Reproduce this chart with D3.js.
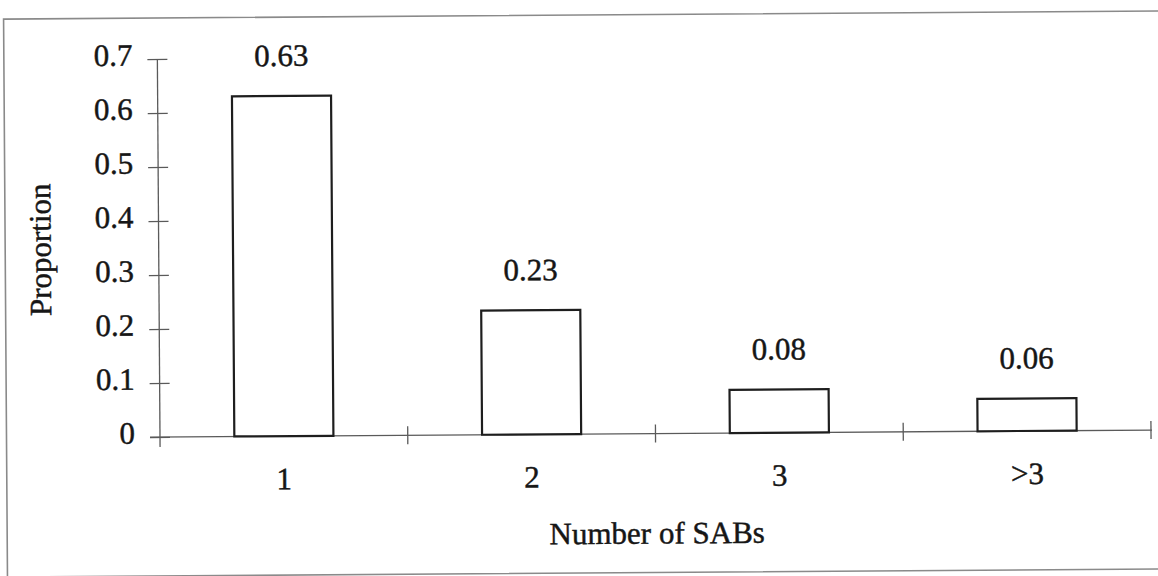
<!DOCTYPE html>
<html>
<head>
<meta charset="utf-8">
<script src="https://cdn.jsdelivr.net/npm/d3@7"></script>
<style>
  html, body { margin: 0; padding: 0; background: #fff; }
  svg { display: block; }
  text { font-family: "Liberation Serif", "Times New Roman", serif; fill: #161616; stroke: #161616; stroke-width: 0.45px; }
</style>
</head>
<body>
<svg id="chart" width="1158" height="576"></svg>
<script>
const categories = ["1", "2", "3", ">3"];
const proportions = [0.63, 0.23, 0.08, 0.06];
const valueLabels = ["0.63", "0.23", "0.08", "0.06"];
const yTicks = [0, 0.1, 0.2, 0.3, 0.4, 0.5, 0.6, 0.7];
const yTickLabels = ["0", "0.1", "0.2", "0.3", "0.4", "0.5", "0.6", "0.7"];
const xTitle = "Number of SABs";
const yTitle = "Proportion";

const svg = d3.select("#chart");
const originX = 160, originY = 437, rightX = 1151, topY = 59;
const fontSize = "31px";
// the scanned figure is slightly rotated
const g = svg.append("g").attr("transform", `rotate(-0.4, ${originX}, ${originY})`);

// scan frame
g.append("rect")
  .attr("x", 6.5).attr("y", 18).attr("width", 1200).attr("height", 558)
  .attr("fill", "none").attr("stroke", "#8a8a8a").attr("stroke-width", 1.6);

const x = d3.scaleBand().domain(categories).range([originX, rightX])
  .paddingInner(0.6).paddingOuter(0.3);
const y = d3.scaleLinear().domain([0, 0.7]).range([originY, topY]);

const axisColor = "#5a5a5a";

// y axis
const yAxis = d3.axisLeft(y).tickValues(yTicks).tickSize(10)
  .tickFormat((d, i) => yTickLabels[i]);
const yg = g.append("g").attr("transform", `translate(${originX},0)`).call(yAxis);
yg.select(".domain").remove();
yg.selectAll(".tick line").attr("x1", 10).attr("x2", -10)
  .attr("stroke", axisColor).attr("stroke-width", 1.3);
yg.selectAll(".tick text").attr("x", -25).attr("dy", null).attr("y", 6)
  .attr("dominant-baseline", "alphabetic")
  .style("font-size", fontSize).style("font-family", '"Liberation Serif", serif').attr("fill", "#161616");
g.append("line").attr("x1", originX).attr("x2", originX)
  .attr("y1", y(0.7)).attr("y2", originY + 10)
  .attr("stroke", axisColor).attr("stroke-width", 1.3);

// x axis
g.append("line").attr("x1", originX - 10).attr("x2", rightX + 1)
  .attr("y1", originY).attr("y2", originY)
  .attr("stroke", axisColor).attr("stroke-width", 1.3);
const boundaries = categories.map(c => x(c) + x.bandwidth() + x.step() * x.paddingInner() / 2);
g.selectAll(".xtick").data(boundaries).join("line").attr("class", "xtick")
  .attr("x1", d => d).attr("x2", d => d)
  .attr("y1", originY - 9).attr("y2", originY + 9)
  .attr("stroke", axisColor).attr("stroke-width", 1.3);
g.selectAll(".xlab").data(categories).join("text").attr("class", "xlab")
  .attr("x", d => x(d) + x.bandwidth() / 2).attr("y", originY + 53)
  .attr("text-anchor", "middle").style("font-size", fontSize).text(d => d);

// bars
g.selectAll(".bar").data(proportions).join("rect").attr("class", "bar")
  .attr("x", (d, i) => x(categories[i]))
  .attr("width", x.bandwidth())
  .attr("y", d => y(d))
  .attr("height", d => y(0) - y(d))
  .attr("fill", "#fff").attr("stroke", "#1e1e1e").attr("stroke-width", 2.2);

g.selectAll(".vlab").data(proportions).join("text").attr("class", "vlab")
  .attr("x", (d, i) => x(categories[i]) + x.bandwidth() / 2)
  .attr("y", d => y(d) - 30)
  .attr("text-anchor", "middle").style("font-size", fontSize)
  .text((d, i) => valueLabels[i]);

// titles
g.append("text").attr("x", (originX + rightX) / 2 + 1).attr("y", originY + 110)
  .attr("text-anchor", "middle").style("font-size", fontSize).text(xTitle);
g.append("text").attr("transform", `translate(52, ${(originY + topY) / 2 + 1}) rotate(-90)`)
  .attr("text-anchor", "middle").style("font-size", fontSize).text(yTitle);
</script>
</body>
</html>
